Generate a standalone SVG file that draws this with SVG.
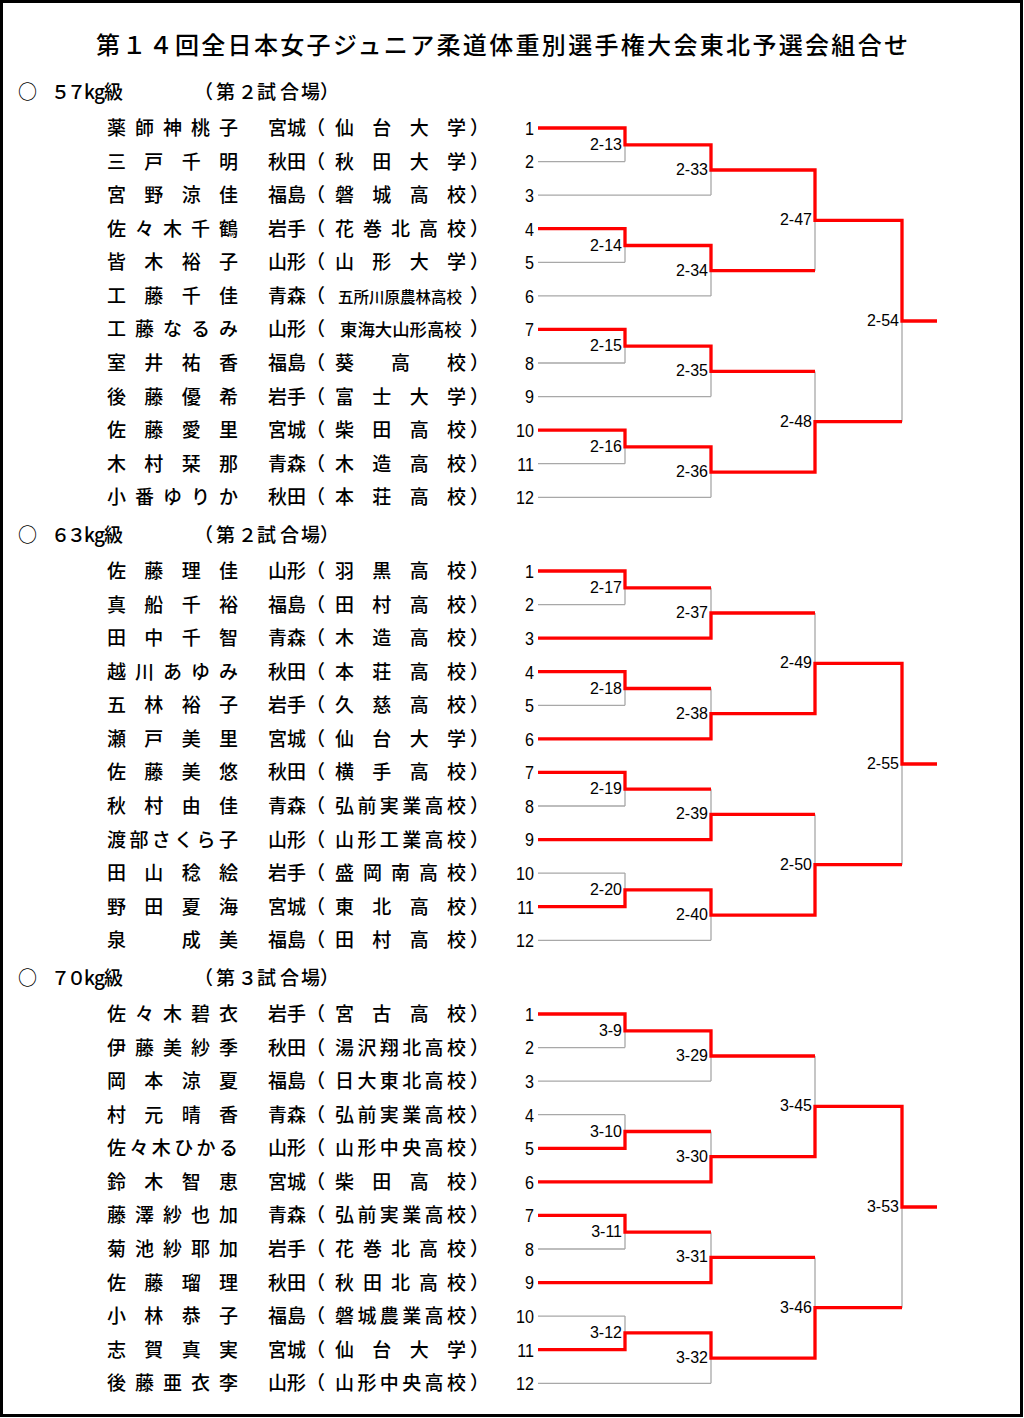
<svg xmlns="http://www.w3.org/2000/svg" xmlns:xlink="http://www.w3.org/1999/xlink" width="1024" height="1418" viewBox="0 0 1024 1418">
<style>
.jp{font-family:"Noto Sans CJK JP","Noto Sans CJK SC",sans-serif;font-size:19px;font-weight:500;fill:#000}
.tt{font-family:"Noto Sans CJK JP","Noto Sans CJK SC",sans-serif;font-size:24px;font-weight:500;fill:#000}
.hd{font-family:"Noto Sans CJK JP","Noto Sans CJK SC",sans-serif;font-size:19px;font-weight:500;fill:#000}
.no{font-family:"Liberation Sans",Arial,sans-serif;font-size:19px;text-anchor:end;fill:#000}
.lb{font-family:"Liberation Sans",Arial,sans-serif;font-size:16px;text-anchor:end;fill:#000}
.gray{fill:none;stroke:#a8a8a8;stroke-width:1.3}
.red{fill:none;stroke:#ff0000;stroke-width:3.3;stroke-linejoin:miter;stroke-linecap:butt}
</style>
<defs>
<path id="skel" class="gray" d="M538,0H625M538,33.6H625M538,67.1H711M538,100.7H625M538,134.3H625M538,167.9H711M538,201.4H625M538,235H625M538,268.6H711M538,302.1H625M538,335.7H625M538,369.3H711M625,0V33.6M625,100.7V134.3M625,201.4V235M625,302.1V335.7M625,16.8H711M625,117.5H711M625,218.2H711M625,318.9H711M711,16.8V67.1M711,117.5V167.9M711,218.2V268.6M711,318.9V369.3M711,42H815M711,142.7H815M711,243.4H815M711,344.1H815M815,42V142.7M815,243.4V344.1M815,92.3H902M815,293.7H902M902,92.3V293.7M902,193H937"/>
</defs>
<rect x="0" y="0" width="1024" height="1418" fill="#fff"/>
<rect x="1.5" y="1.5" width="1020" height="1414" fill="none" stroke="#000" stroke-width="3"/>
<text id="title" class="tt" x="96" y="54" textLength="812" lengthAdjust="spacing">第１４回全日本女子ジュニア柔道体重別選手権大会東北予選会組合せ</text>

<!-- 57kg -->
<g id="section-57kg" transform="translate(0,128)">
<text class="hd" y="-29" x="18 51 67 84 94 104 194 216 238 257 280 301 320">○５７kg級（第２試合場）</text>
<g id="s1-connectors">
<use xlink:href="#skel"/>
<path class="red" d="M538,0H625V16.8H711V42H815V92.3H902V193H937"/>
<path class="red" d="M538,100.7H625V117.5H711V142.7H815"/>
<path class="red" d="M538,201.4H625V218.2H711V243.4H815"/>
<path class="red" d="M538,302.1H625V318.9H711V344.1H815V293.7H902"/>
</g>
<g id="s1-e1"><text class="jp" y="7" x="107 135 163 191 219">薬師神桃子</text><text class="jp" y="7" x="268 287 306 335 372.3 409.7 447 470">宮城（仙台大学）</text><text class="no" transform="translate(534 6.8) scale(0.85 1)">1</text></g>
<g id="s1-e2"><text class="jp" y="40.6" x="107 144.3 181.7 219">三戸千明</text><text class="jp" y="40.6" x="268 287 306 335 372.3 409.7 447 470">秋田（秋田大学）</text><text class="no" transform="translate(534 40.4) scale(0.85 1)">2</text></g>
<g id="s1-e3"><text class="jp" y="74.1" x="107 144.3 181.7 219">宮野涼佳</text><text class="jp" y="74.1" x="268 287 306 335 372.3 409.7 447 470">福島（磐城高校）</text><text class="no" transform="translate(534 73.9) scale(0.85 1)">3</text></g>
<g id="s1-e4"><text class="jp" y="107.7" x="107 135 163 191 219">佐々木千鶴</text><text class="jp" y="107.7" x="268 287 306 335 363 391 419 447 470">岩手（花巻北高校）</text><text class="no" transform="translate(534 107.5) scale(0.85 1)">4</text></g>
<g id="s1-e5"><text class="jp" y="141.3" x="107 144.3 181.7 219">皆木裕子</text><text class="jp" y="141.3" x="268 287 306 335 372.3 409.7 447 470">山形（山形大学）</text><text class="no" transform="translate(534 141.1) scale(0.85 1)">5</text></g>
<g id="s1-e6"><text class="jp" y="174.9" x="107 144.3 181.7 219">工藤千佳</text><text class="jp" y="174.9" x="268">青森（<tspan x="338" font-size="15.5">五所川原農林高校</tspan><tspan x="470">）</tspan></text><text class="no" transform="translate(534 174.7) scale(0.85 1)">6</text></g>
<g id="s1-e7"><text class="jp" y="208.4" x="107 135 163 191 219">工藤なるみ</text><text class="jp" y="208.4" x="268">山形（<tspan x="340" font-size="17.4">東海大山形高校</tspan><tspan x="470">）</tspan></text><text class="no" transform="translate(534 208.2) scale(0.85 1)">7</text></g>
<g id="s1-e8"><text class="jp" y="242" x="107 144.3 181.7 219">室井祐香</text><text class="jp" y="242" x="268 287 306 335 391 447 470">福島（葵高校）</text><text class="no" transform="translate(534 241.8) scale(0.85 1)">8</text></g>
<g id="s1-e9"><text class="jp" y="275.6" x="107 144.3 181.7 219">後藤優希</text><text class="jp" y="275.6" x="268 287 306 335 372.3 409.7 447 470">岩手（富士大学）</text><text class="no" transform="translate(534 275.4) scale(0.85 1)">9</text></g>
<g id="s1-e10"><text class="jp" y="309.1" x="107 144.3 181.7 219">佐藤愛里</text><text class="jp" y="309.1" x="268 287 306 335 372.3 409.7 447 470">宮城（柴田高校）</text><text class="no" transform="translate(534 308.9) scale(0.85 1)">10</text></g>
<g id="s1-e11"><text class="jp" y="342.7" x="107 144.3 181.7 219">木村栞那</text><text class="jp" y="342.7" x="268 287 306 335 372.3 409.7 447 470">青森（木造高校）</text><text class="no" transform="translate(534 342.5) scale(0.85 1)">11</text></g>
<g id="s1-e12"><text class="jp" y="376.3" x="107 135 163 191 219">小番ゆりか</text><text class="jp" y="376.3" x="268 287 306 335 372.3 409.7 447 470">秋田（本荘高校）</text><text class="no" transform="translate(534 376.1) scale(0.85 1)">12</text></g>
<g id="s1-m2-13"><text class="lb" x="622" y="21.8">2-13</text></g>
<g id="s1-m2-14"><text class="lb" x="622" y="122.5">2-14</text></g>
<g id="s1-m2-15"><text class="lb" x="622" y="223.2">2-15</text></g>
<g id="s1-m2-16"><text class="lb" x="622" y="323.9">2-16</text></g>
<g id="s1-m2-33"><text class="lb" x="708" y="47">2-33</text></g>
<g id="s1-m2-34"><text class="lb" x="708" y="147.7">2-34</text></g>
<g id="s1-m2-35"><text class="lb" x="708" y="248.4">2-35</text></g>
<g id="s1-m2-36"><text class="lb" x="708" y="349.1">2-36</text></g>
<g id="s1-m2-47"><text class="lb" x="812" y="97.3">2-47</text></g>
<g id="s1-m2-48"><text class="lb" x="812" y="298.7">2-48</text></g>
<g id="s1-m2-54"><text class="lb" x="899" y="198">2-54</text></g>
</g>

<!-- 63kg -->
<g id="section-63kg" transform="translate(0,571)">
<text class="hd" y="-29" x="18 51 67 84 94 104 194 216 238 257 280 301 320">○６３kg級（第２試合場）</text>
<g id="s2-connectors">
<use xlink:href="#skel"/>
<path class="red" d="M538,0H625V16.8H711"/>
<path class="red" d="M538,67.1H711V42H815"/>
<path class="red" d="M538,100.7H625V117.5H711"/>
<path class="red" d="M538,167.9H711V142.7H815V92.3H902V193H937"/>
<path class="red" d="M538,201.4H625V218.2H711"/>
<path class="red" d="M538,268.6H711V243.4H815"/>
<path class="red" d="M538,335.7H625V318.9H711V344.1H815V293.7H902"/>
</g>
<g id="s2-e1"><text class="jp" y="7" x="107 144.3 181.7 219">佐藤理佳</text><text class="jp" y="7" x="268 287 306 335 372.3 409.7 447 470">山形（羽黒高校）</text><text class="no" transform="translate(534 6.8) scale(0.85 1)">1</text></g>
<g id="s2-e2"><text class="jp" y="40.6" x="107 144.3 181.7 219">真船千裕</text><text class="jp" y="40.6" x="268 287 306 335 372.3 409.7 447 470">福島（田村高校）</text><text class="no" transform="translate(534 40.4) scale(0.85 1)">2</text></g>
<g id="s2-e3"><text class="jp" y="74.1" x="107 144.3 181.7 219">田中千智</text><text class="jp" y="74.1" x="268 287 306 335 372.3 409.7 447 470">青森（木造高校）</text><text class="no" transform="translate(534 73.9) scale(0.85 1)">3</text></g>
<g id="s2-e4"><text class="jp" y="107.7" x="107 135 163 191 219">越川あゆみ</text><text class="jp" y="107.7" x="268 287 306 335 372.3 409.7 447 470">秋田（本荘高校）</text><text class="no" transform="translate(534 107.5) scale(0.85 1)">4</text></g>
<g id="s2-e5"><text class="jp" y="141.3" x="107 144.3 181.7 219">五林裕子</text><text class="jp" y="141.3" x="268 287 306 335 372.3 409.7 447 470">岩手（久慈高校）</text><text class="no" transform="translate(534 141.1) scale(0.85 1)">5</text></g>
<g id="s2-e6"><text class="jp" y="174.9" x="107 144.3 181.7 219">瀬戸美里</text><text class="jp" y="174.9" x="268 287 306 335 372.3 409.7 447 470">宮城（仙台大学）</text><text class="no" transform="translate(534 174.7) scale(0.85 1)">6</text></g>
<g id="s2-e7"><text class="jp" y="208.4" x="107 144.3 181.7 219">佐藤美悠</text><text class="jp" y="208.4" x="268 287 306 335 372.3 409.7 447 470">秋田（横手高校）</text><text class="no" transform="translate(534 208.2) scale(0.85 1)">7</text></g>
<g id="s2-e8"><text class="jp" y="242" x="107 144.3 181.7 219">秋村由佳</text><text class="jp" y="242" x="268 287 306 335 357.4 379.8 402.2 424.6 447 470">青森（弘前実業高校）</text><text class="no" transform="translate(534 241.8) scale(0.85 1)">8</text></g>
<g id="s2-e9"><text class="jp" y="275.6" x="107 129.4 151.8 174.2 196.6 219">渡部さくら子</text><text class="jp" y="275.6" x="268 287 306 335 357.4 379.8 402.2 424.6 447 470">山形（山形工業高校）</text><text class="no" transform="translate(534 275.4) scale(0.85 1)">9</text></g>
<g id="s2-e10"><text class="jp" y="309.1" x="107 144.3 181.7 219">田山稔絵</text><text class="jp" y="309.1" x="268 287 306 335 363 391 419 447 470">岩手（盛岡南高校）</text><text class="no" transform="translate(534 308.9) scale(0.85 1)">10</text></g>
<g id="s2-e11"><text class="jp" y="342.7" x="107 144.3 181.7 219">野田夏海</text><text class="jp" y="342.7" x="268 287 306 335 372.3 409.7 447 470">宮城（東北高校）</text><text class="no" transform="translate(534 342.5) scale(0.85 1)">11</text></g>
<g id="s2-e12"><text class="jp" y="376.3" x="107 181.7 219">泉成美</text><text class="jp" y="376.3" x="268 287 306 335 372.3 409.7 447 470">福島（田村高校）</text><text class="no" transform="translate(534 376.1) scale(0.85 1)">12</text></g>
<g id="s2-m2-17"><text class="lb" x="622" y="21.8">2-17</text></g>
<g id="s2-m2-18"><text class="lb" x="622" y="122.5">2-18</text></g>
<g id="s2-m2-19"><text class="lb" x="622" y="223.2">2-19</text></g>
<g id="s2-m2-20"><text class="lb" x="622" y="323.9">2-20</text></g>
<g id="s2-m2-37"><text class="lb" x="708" y="47">2-37</text></g>
<g id="s2-m2-38"><text class="lb" x="708" y="147.7">2-38</text></g>
<g id="s2-m2-39"><text class="lb" x="708" y="248.4">2-39</text></g>
<g id="s2-m2-40"><text class="lb" x="708" y="349.1">2-40</text></g>
<g id="s2-m2-49"><text class="lb" x="812" y="97.3">2-49</text></g>
<g id="s2-m2-50"><text class="lb" x="812" y="298.7">2-50</text></g>
<g id="s2-m2-55"><text class="lb" x="899" y="198">2-55</text></g>
</g>

<!-- 70kg -->
<g id="section-70kg" transform="translate(0,1014)">
<text class="hd" y="-29" x="18 51 67 84 94 104 194 216 238 257 280 301 320">○７０kg級（第３試合場）</text>
<g id="s3-connectors">
<use xlink:href="#skel"/>
<path class="red" d="M538,0H625V16.8H711V42H815"/>
<path class="red" d="M538,134.3H625V117.5H711"/>
<path class="red" d="M538,167.9H711V142.7H815V92.3H902V193H937"/>
<path class="red" d="M538,201.4H625V218.2H711"/>
<path class="red" d="M538,268.6H711V243.4H815"/>
<path class="red" d="M538,335.7H625V318.9H711V344.1H815V293.7H902"/>
</g>
<g id="s3-e1"><text class="jp" y="7" x="107 135 163 191 219">佐々木碧衣</text><text class="jp" y="7" x="268 287 306 335 372.3 409.7 447 470">岩手（宮古高校）</text><text class="no" transform="translate(534 6.8) scale(0.85 1)">1</text></g>
<g id="s3-e2"><text class="jp" y="40.6" x="107 135 163 191 219">伊藤美紗季</text><text class="jp" y="40.6" x="268 287 306 335 357.4 379.8 402.2 424.6 447 470">秋田（湯沢翔北高校）</text><text class="no" transform="translate(534 40.4) scale(0.85 1)">2</text></g>
<g id="s3-e3"><text class="jp" y="74.1" x="107 144.3 181.7 219">岡本涼夏</text><text class="jp" y="74.1" x="268 287 306 335 357.4 379.8 402.2 424.6 447 470">福島（日大東北高校）</text><text class="no" transform="translate(534 73.9) scale(0.85 1)">3</text></g>
<g id="s3-e4"><text class="jp" y="107.7" x="107 144.3 181.7 219">村元晴香</text><text class="jp" y="107.7" x="268 287 306 335 357.4 379.8 402.2 424.6 447 470">青森（弘前実業高校）</text><text class="no" transform="translate(534 107.5) scale(0.85 1)">4</text></g>
<g id="s3-e5"><text class="jp" y="141.3" x="107 129.4 151.8 174.2 196.6 219">佐々木ひかる</text><text class="jp" y="141.3" x="268 287 306 335 357.4 379.8 402.2 424.6 447 470">山形（山形中央高校）</text><text class="no" transform="translate(534 141.1) scale(0.85 1)">5</text></g>
<g id="s3-e6"><text class="jp" y="174.9" x="107 144.3 181.7 219">鈴木智恵</text><text class="jp" y="174.9" x="268 287 306 335 372.3 409.7 447 470">宮城（柴田高校）</text><text class="no" transform="translate(534 174.7) scale(0.85 1)">6</text></g>
<g id="s3-e7"><text class="jp" y="208.4" x="107 135 163 191 219">藤澤紗也加</text><text class="jp" y="208.4" x="268 287 306 335 357.4 379.8 402.2 424.6 447 470">青森（弘前実業高校）</text><text class="no" transform="translate(534 208.2) scale(0.85 1)">7</text></g>
<g id="s3-e8"><text class="jp" y="242" x="107 135 163 191 219">菊池紗耶加</text><text class="jp" y="242" x="268 287 306 335 363 391 419 447 470">岩手（花巻北高校）</text><text class="no" transform="translate(534 241.8) scale(0.85 1)">8</text></g>
<g id="s3-e9"><text class="jp" y="275.6" x="107 144.3 181.7 219">佐藤瑠理</text><text class="jp" y="275.6" x="268 287 306 335 363 391 419 447 470">秋田（秋田北高校）</text><text class="no" transform="translate(534 275.4) scale(0.85 1)">9</text></g>
<g id="s3-e10"><text class="jp" y="309.1" x="107 144.3 181.7 219">小林恭子</text><text class="jp" y="309.1" x="268 287 306 335 357.4 379.8 402.2 424.6 447 470">福島（磐城農業高校）</text><text class="no" transform="translate(534 308.9) scale(0.85 1)">10</text></g>
<g id="s3-e11"><text class="jp" y="342.7" x="107 144.3 181.7 219">志賀真実</text><text class="jp" y="342.7" x="268 287 306 335 372.3 409.7 447 470">宮城（仙台大学）</text><text class="no" transform="translate(534 342.5) scale(0.85 1)">11</text></g>
<g id="s3-e12"><text class="jp" y="376.3" x="107 135 163 191 219">後藤亜衣李</text><text class="jp" y="376.3" x="268 287 306 335 357.4 379.8 402.2 424.6 447 470">山形（山形中央高校）</text><text class="no" transform="translate(534 376.1) scale(0.85 1)">12</text></g>
<g id="s3-m3-9"><text class="lb" x="622" y="21.8">3-9</text></g>
<g id="s3-m3-10"><text class="lb" x="622" y="122.5">3-10</text></g>
<g id="s3-m3-11"><text class="lb" x="622" y="223.2">3-11</text></g>
<g id="s3-m3-12"><text class="lb" x="622" y="323.9">3-12</text></g>
<g id="s3-m3-29"><text class="lb" x="708" y="47">3-29</text></g>
<g id="s3-m3-30"><text class="lb" x="708" y="147.7">3-30</text></g>
<g id="s3-m3-31"><text class="lb" x="708" y="248.4">3-31</text></g>
<g id="s3-m3-32"><text class="lb" x="708" y="349.1">3-32</text></g>
<g id="s3-m3-45"><text class="lb" x="812" y="97.3">3-45</text></g>
<g id="s3-m3-46"><text class="lb" x="812" y="298.7">3-46</text></g>
<g id="s3-m3-53"><text class="lb" x="899" y="198">3-53</text></g>
</g>
</svg>
